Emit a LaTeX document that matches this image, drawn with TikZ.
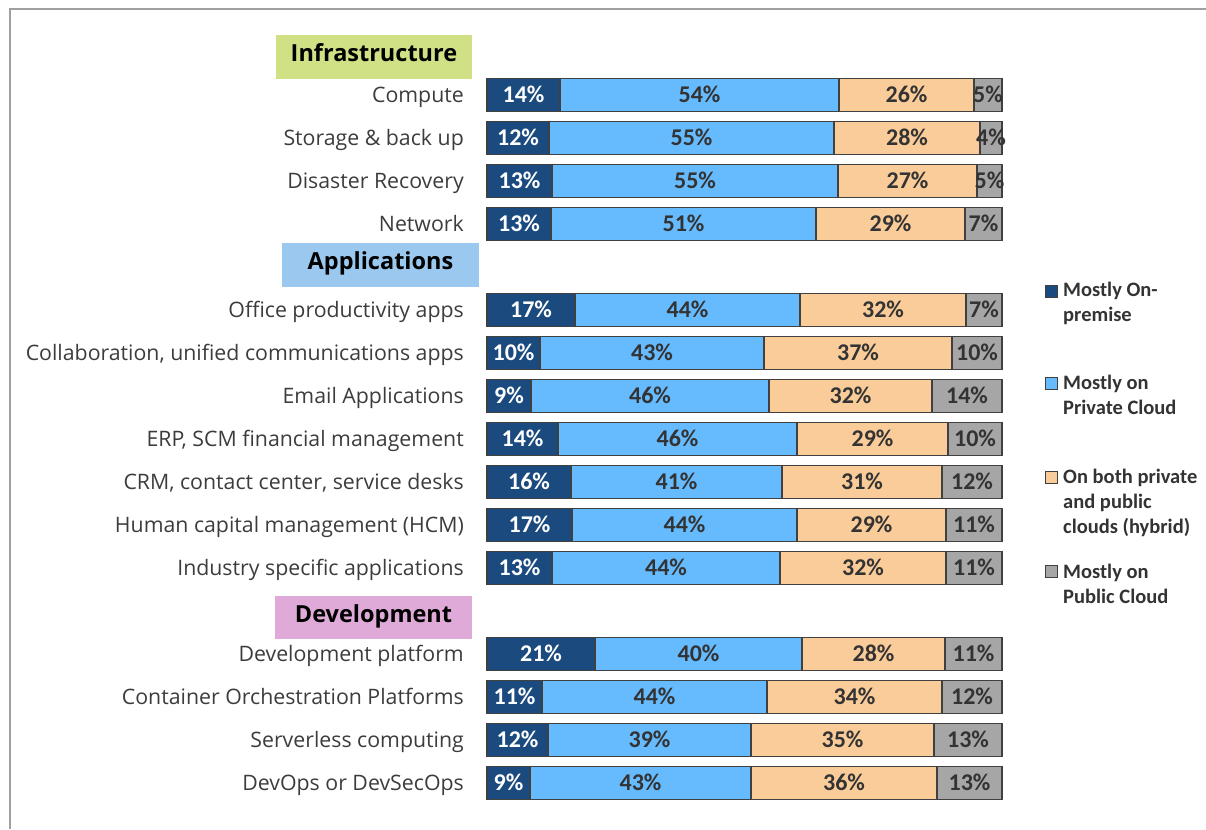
\documentclass[tikz,border=0pt]{standalone}
\usepackage{fontspec}
\usetikzlibrary{calc}
\setmainfont{Open Sans}
\newfontfamily\carl{Carlito}
\definecolor{cOn}{RGB}{26,74,126}
\definecolor{cPriv}{RGB}{102,187,255}
\definecolor{cHyb}{RGB}{250,204,153}
\definecolor{cPub}{RGB}{166,166,166}
\definecolor{cEdge}{RGB}{64,64,64}
\definecolor{cTxt}{RGB}{60,60,60}
\definecolor{cPct}{RGB}{51,51,51}
\definecolor{cFrame}{RGB}{160,160,160}
\definecolor{hInf}{RGB}{208,225,133}
\definecolor{hApp}{RGB}{155,200,238}
\definecolor{hDev}{RGB}{223,169,216}
\tikzset{
  seg/.style={draw=cEdge,line width=1.2pt,minimum height=33pt,inner sep=0pt,outer sep=0pt},
  pct/.style={font=\carl\bfseries\fontsize{24}{27}\selectfont,inner sep=0pt,text=cPct},
  rowlab/.style={font=\fontsize{21.3}{25}\selectfont,text=cTxt,inner sep=0pt},
  head/.style={font=\bfseries\fontsize{23.5}{28}\selectfont,text=black,inner sep=0pt,text height=17pt,text depth=8pt},
  legbox/.style={draw=cEdge,line width=1pt,minimum size=12pt,inner sep=0pt},
  legtxt/.style={font=\carl\bfseries\fontsize{20.5}{25}\selectfont,text=cPct,align=left,inner sep=0pt},
  frame/.style={draw=cFrame,line width=1.5pt}
}
\begin{document}
\begin{tikzpicture}[x=1pt,y=-1pt]
\useasboundingbox (0,0) rectangle (1206,829);
\coordinate (fr1) at (1206,9);
\coordinate (fr2) at (10,9);
\coordinate (fr3) at (10,829);
\draw[frame] (fr1) -- (fr2) -- (fr3);
% headers
\node[head,fill=hInf,minimum width=196pt,minimum height=44pt] (h1) at (374,57) {Infrastructure};
\node[head,fill=hApp,minimum width=197pt,minimum height=44pt] (h2) at (380.5,265) {Applications};
\node[head,fill=hDev,minimum width=197pt,minimum height=43pt] (h3) at (373.5,617.5) {Development};
% rows
\foreach \ri/\lab/\xa/\xb/\xc/\pa/\pb/\pc/\pd in {
0/Compute/560/839/974/14/54/26/5,
1/Storage \& back up/549/834/980/12/55/28/4,
2/Disaster Recovery/552/838/977/13/55/27/5,
3/Network/551/816/965/13/51/29/7,
5/Office productivity apps/575/800/966/17/44/32/7,
6/{Collaboration, unified communications apps}/540/764/952/10/43/37/10,
7/Email Applications/531/769/932/9/46/32/14,
8/{ERP, SCM financial management}/558/797/948/14/46/29/10,
9/{CRM, contact center, service desks}/571/782/942/16/41/31/12,
10/Human capital management (HCM)/572/797/946/17/44/29/11,
11/Industry specific applications/552/780/946/13/44/32/11,
13/Development platform/595/802/945/21/40/28/11,
14/Container Orchestration Platforms/542/767/942/11/44/34/12,
15/Serverless computing/548/751/934/12/39/35/13,
16/DevOps or DevSecOps/530/751/937/9/43/36/13}{
  \pgfmathsetmacro\yc{95+43*\ri}
  \pgfmathsetmacro\wA{\xa-487}
  \pgfmathsetmacro\wB{\xb-\xa}
  \pgfmathsetmacro\wC{\xc-\xb}
  \pgfmathsetmacro\wD{1002-\xc}
  \node[rowlab,anchor=base east] (l\ri) at (464,\yc+7.5) {\lab};
  \node[seg,fill=cOn,minimum width=\wA pt] (a\ri) at ({(487+\xa)/2},\yc) {};
  \node[seg,fill=cPriv,minimum width=\wB pt] (b\ri) at ({(\xa+\xb)/2},\yc) {};
  \node[seg,fill=cHyb,minimum width=\wC pt] (c\ri) at ({(\xb+\xc)/2},\yc) {};
  \node[seg,fill=cPub,minimum width=\wD pt] (d\ri) at ({(\xc+1002)/2},\yc) {};
  \node[pct,text=white,anchor=base] (ta\ri) at ($(a\ri.center)+(0,7.6)$) {\pa\%};
  \node[pct,anchor=base] (tb\ri) at ($(b\ri.center)+(0,7.6)$) {\pb\%};
  \node[pct,anchor=base] (tc\ri) at ($(c\ri.center)+(0,7.6)$) {\pc\%};
  \node[pct,anchor=base] (td\ri) at ($(d\ri.center)+(0,7.6)$) {\pd\%};
}
% legend
\node[legbox,fill=cOn] (k1) at (1051.5,291) {};
\node[legbox,fill=cPriv] (k2) at (1051.5,383) {};
\node[legbox,fill=cHyb] (k3) at (1051.5,477) {};
\node[legbox,fill=cPub] (k4) at (1051.5,571) {};
\node[legtxt,anchor=base west] (t1) at (1063,321.6) {Mostly On-\\premise};
\node[legtxt,anchor=base west] (t2) at (1063,414.6) {Mostly on\\Private Cloud};
\node[legtxt,anchor=base west] (t3) at (1063,533.6) {On both private\\and public\\clouds (hybrid)};
\node[legtxt,anchor=base west] (t4) at (1063,603.6) {Mostly on\\Public Cloud};
\end{tikzpicture}
\end{document}
